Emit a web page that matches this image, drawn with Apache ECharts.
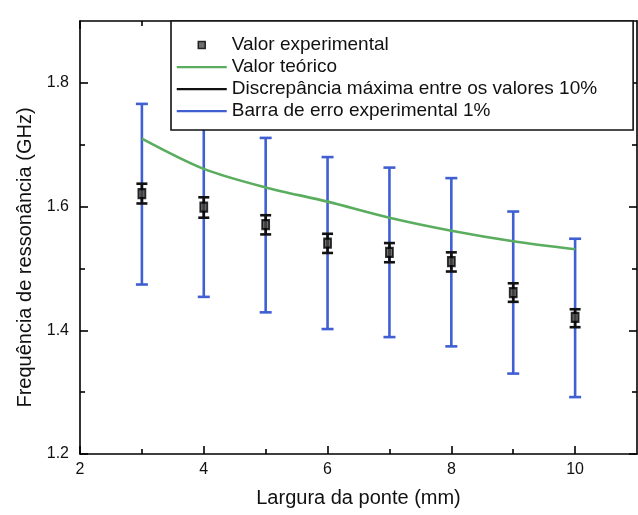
<!DOCTYPE html>
<html>
<head>
<meta charset="utf-8">
<script src="https://cdn.jsdelivr.net/npm/echarts@6/dist/echarts.min.js"></script>
<style>
  html, body { margin: 0; padding: 0; background: #fff; }
  #chart { width: 638px; height: 515px; }
</style>
</head>
<body>
<div id="chart"></div>
<script>
// Bridge width (mm)
const larguras = [3, 4, 5, 6, 7, 8, 9, 10];
// Measured resonance frequency (GHz)
const valorExperimental = [1.621, 1.599, 1.571, 1.541, 1.526, 1.511, 1.461, 1.421];
// Small black error bars around each measurement
const discrepanciaInf = [1.605, 1.582, 1.555, 1.525, 1.510, 1.495, 1.446, 1.405];
const discrepanciaSup = [1.637, 1.615, 1.586, 1.556, 1.541, 1.526, 1.476, 1.434];
// Theoretical resonance frequency (GHz)
const valorTeorico = [1.710, 1.661, 1.631, 1.608, 1.582, 1.561, 1.544, 1.531];
// Large blue error bars
const barraInf = [1.474, 1.454, 1.429, 1.402, 1.389, 1.374, 1.330, 1.292];
const barraSup = [1.766, 1.744, 1.711, 1.680, 1.663, 1.646, 1.592, 1.548];
// Axis ticks
const xMajor = [2, 4, 6, 8, 10];
const xMinor = [3, 5, 7, 9];
const yMajor = [1.2, 1.4, 1.6, 1.8];
const yMinor = [1.3, 1.5, 1.7];

const FONT = '"Liberation Sans", Arial, sans-serif';
const AXIS_COLOR = '#000';
const BLUE = '#3f5fd2';
const GREEN = '#5aad5e';

const chart = echarts.init(document.getElementById('chart'), null, { renderer: 'canvas' });

function errorBar(color, width, capHalf) {
  return function (params, api) {
    const x = api.value(0);
    const lo = api.coord([x, api.value(1)]);
    const hi = api.coord([x, api.value(2)]);
    const st = { stroke: color, lineWidth: width };
    return {
      type: 'group',
      children: [
        { type: 'line', shape: { x1: lo[0], y1: lo[1], x2: hi[0], y2: hi[1] }, style: st },
        { type: 'line', shape: { x1: lo[0] - capHalf, y1: lo[1], x2: lo[0] + capHalf, y2: lo[1] }, style: st },
        { type: 'line', shape: { x1: hi[0] - capHalf, y1: hi[1], x2: hi[0] + capHalf, y2: hi[1] }, style: st }
      ]
    };
  };
}

function axisBase(extra) {
  return Object.assign({
    type: 'value',
    axisLine: { show: true, onZero: false, lineStyle: { color: AXIS_COLOR, width: 1.6 } },
    splitLine: { show: false },
    minorTick: { show: false },
    axisLabel: { show: false }
  }, extra);
}

const lineIcon = 'path://M0,0M50,8M0,2.9L50,2.9L50,5.3L0,5.3Z';
const squareIcon = 'path://M0,0M50,8M21.5,0.5L28.5,0.5L28.5,7.5L21.5,7.5Z';

const nomes = {
  exp: 'Valor experimental',
  teo: 'Valor teórico',
  disc: 'Discrepância máxima entre os valores 10%',
  barra: 'Barra de erro experimental 1%'
};

const option = {
  animation: false,
  backgroundColor: '#fff',
  textStyle: { fontFamily: FONT },
  grid: { left: 80, top: 21, width: 557, height: 433, containLabel: false },
  xAxis: [
    axisBase({
      position: 'bottom', min: 2, max: 11,
      axisTick: { show: true, inside: true, length: 8, customValues: xMajor, lineStyle: { color: AXIS_COLOR, width: 1.6 } },
      axisLabel: { show: true, customValues: xMajor, fontSize: 16, color: '#111', margin: 8, fontFamily: FONT },
      name: 'Largura da ponte (mm)', nameLocation: 'middle', nameGap: 34,
      nameTextStyle: { fontSize: 20, color: '#111', fontFamily: FONT }
    }),
    axisBase({
      position: 'bottom', min: 2, max: 11,
      axisLine: { show: false },
      axisTick: { show: true, inside: true, length: 5, customValues: xMinor, lineStyle: { color: AXIS_COLOR, width: 1.6 } }
    }),
    axisBase({
      position: 'top', min: 2, max: 11,
      axisTick: { show: true, inside: true, length: 8, customValues: xMajor, lineStyle: { color: AXIS_COLOR, width: 1.6 } }
    }),
    axisBase({
      position: 'top', min: 2, max: 11,
      axisLine: { show: false },
      axisTick: { show: true, inside: true, length: 5, customValues: xMinor, lineStyle: { color: AXIS_COLOR, width: 1.6 } }
    })
  ],
  yAxis: [
    axisBase({
      position: 'left', min: 1.2, max: 1.9,
      axisTick: { show: true, inside: true, length: 8, customValues: yMajor, lineStyle: { color: AXIS_COLOR, width: 1.6 } },
      axisLabel: { show: true, customValues: yMajor, fontSize: 16, color: '#111', margin: 11, fontFamily: FONT,
        formatter: v => v.toFixed(1) },
      name: 'Frequência de ressonância (GHz)', nameLocation: 'middle', nameGap: 42,
      nameTextStyle: { fontSize: 20, color: '#111', fontFamily: FONT, padding: [0, 40, 0, 0] }
    }),
    axisBase({
      position: 'left', min: 1.2, max: 1.9,
      axisLine: { show: false },
      axisTick: { show: true, inside: true, length: 5, customValues: yMinor, lineStyle: { color: AXIS_COLOR, width: 1.6 } }
    }),
    axisBase({
      position: 'right', min: 1.2, max: 1.9,
      axisTick: { show: true, inside: true, length: 8, customValues: yMajor, lineStyle: { color: AXIS_COLOR, width: 1.6 } }
    }),
    axisBase({
      position: 'right', min: 1.2, max: 1.9,
      axisLine: { show: false },
      axisTick: { show: true, inside: true, length: 5, customValues: yMinor, lineStyle: { color: AXIS_COLOR, width: 1.6 } }
    })
  ],
  legend: {
    left: 171, top: 21,
    orient: 'vertical',
    padding: [14, 36, 9, 5],
    itemWidth: 50, itemHeight: 8, itemGap: 2,
    backgroundColor: '#fff',
    borderColor: '#111', borderWidth: 1.6,
    textStyle: { fontSize: 19, lineHeight: 20, color: '#111', fontFamily: FONT },
    selectedMode: false,
    data: [
      { name: nomes.exp, icon: squareIcon, itemStyle: { color: '#4a4a4a', borderColor: '#000', borderWidth: 1.5 } },
      { name: nomes.teo, icon: lineIcon, itemStyle: { color: GREEN, borderWidth: 0 } },
      { name: nomes.disc, icon: lineIcon, itemStyle: { color: '#111', borderWidth: 0 } },
      { name: nomes.barra, icon: lineIcon, itemStyle: { color: BLUE, borderWidth: 0 } }
    ]
  },
  series: [
    {
      name: nomes.barra,
      type: 'custom',
      xAxisIndex: 0, yAxisIndex: 0,
      itemStyle: { color: BLUE },
      renderItem: errorBar(BLUE, 2.6, 6),
      encode: { x: 0, y: [1, 2] },
      data: larguras.map((x, i) => [x, barraInf[i], barraSup[i]]),
      z: 2
    },
    {
      name: nomes.teo,
      type: 'line',
      xAxisIndex: 0, yAxisIndex: 0,
      smooth: 0.3,
      showSymbol: false, symbol: 'none',
      lineStyle: { color: GREEN, width: 2.6 },
      itemStyle: { color: GREEN },
      data: larguras.map((x, i) => [x, valorTeorico[i]]),
      z: 3
    },
    {
      name: nomes.disc,
      type: 'custom',
      xAxisIndex: 0, yAxisIndex: 0,
      itemStyle: { color: '#111' },
      renderItem: errorBar('#111', 2.6, 5.5),
      encode: { x: 0, y: [1, 2] },
      data: larguras.map((x, i) => [x, discrepanciaInf[i], discrepanciaSup[i]]),
      z: 4
    },
    {
      name: nomes.exp,
      type: 'scatter',
      xAxisIndex: 0, yAxisIndex: 0,
      symbol: 'rect', symbolSize: [7, 9],
      itemStyle: { color: '#4a4a4a', borderColor: '#000', borderWidth: 2 },
      data: larguras.map((x, i) => [x, valorExperimental[i]]),
      z: 5
    }
  ]
};

chart.setOption(option);
</script>
</body>
</html>
